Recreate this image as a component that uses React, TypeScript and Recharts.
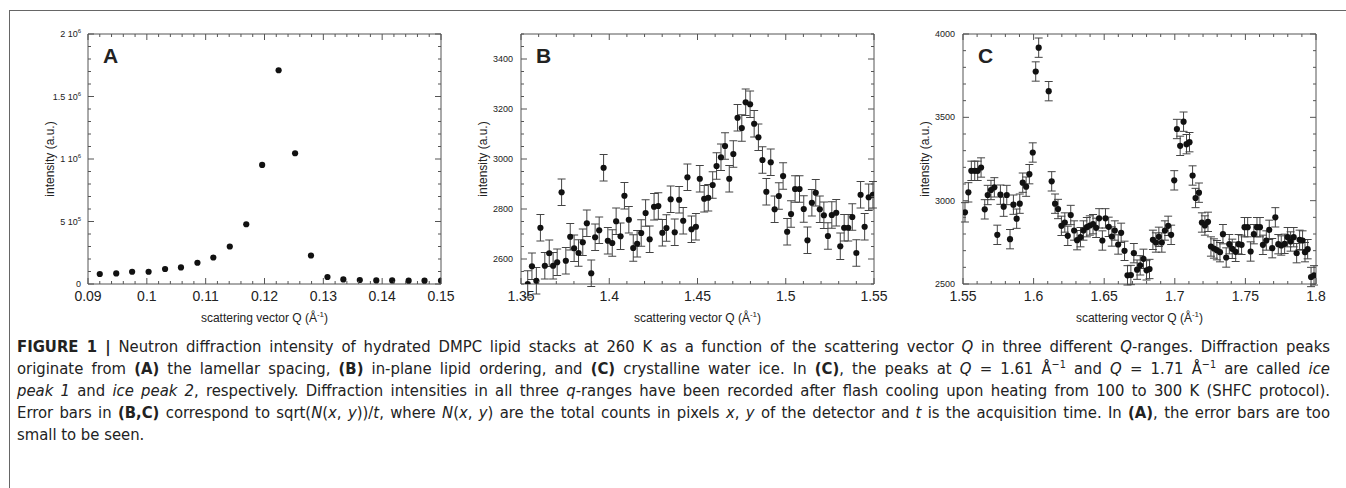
import React from "react";
import { ScatterChart, Scatter, XAxis, YAxis, ErrorBar, ReferenceArea } from "recharts";

// Panel A: lamellar peak (no visible error bars)
const qA = [0.092, 0.0948, 0.0975, 0.1003, 0.1031, 0.1058, 0.1086, 0.1113, 0.1141, 0.1169, 0.1196,
    0.1224, 0.1252, 0.1279, 0.1307, 0.1334, 0.1362, 0.139, 0.1417, 0.1445, 0.1472, 0.15];
const intensityA = [80000, 85000, 98000, 98000, 120000, 133000, 170000, 212000, 300000, 478000, 953000,
    1710000, 1046000, 228000, 56000, 37000, 32000, 29000, 29000, 27000, 27000, 27000];

// Panel B: in-plane lipid ordering
const qB = [
    1.3538, 1.3562, 1.3587, 1.361, 1.3635, 1.366, 1.3682, 1.3705, 1.373, 1.3754,
    1.3779, 1.3801, 1.3826, 1.385, 1.3873, 1.3898, 1.392, 1.3943, 1.3968, 1.3992,
    1.4017, 1.4039, 1.4064, 1.4086, 1.4111, 1.4136, 1.4158, 1.4181, 1.4206, 1.4229,
    1.4254, 1.4278, 1.4301, 1.4324, 1.4348, 1.4371, 1.4396, 1.4419, 1.4443, 1.4466,
    1.4491, 1.4513, 1.4538, 1.4561, 1.4586, 1.4608, 1.4633, 1.4656, 1.468, 1.4703,
    1.4727, 1.4751, 1.4773, 1.4798, 1.4821, 1.4845, 1.4868, 1.489, 1.4915, 1.4937,
    1.4961, 1.4985, 1.5008, 1.503, 1.5053, 1.5078, 1.5102, 1.5123, 1.5148, 1.517,
    1.5193, 1.5216, 1.5239, 1.5261, 1.5286, 1.5309, 1.5331, 1.5354, 1.5377, 1.54,
    1.5424, 1.5447, 1.547, 1.5494
];
const intensityB = [
    2500, 2571, 2513, 2725, 2573, 2623, 2573, 2587, 2867, 2593,
    2689, 2643, 2624, 2667, 2743, 2543, 2687, 2715, 2965, 2673,
    2664, 2751, 2691, 2853, 2757, 2644, 2661, 2704, 2784, 2679,
    2809, 2812, 2705, 2724, 2839, 2707, 2837, 2753, 2927, 2719,
    2729, 2921, 2841, 2845, 2896, 2972, 3007, 3052, 2921, 3020,
    3165, 3124, 3227, 3219, 3141, 3087, 2996, 2869, 2987, 2799,
    2852, 2932, 2709, 2780, 2880, 2880, 2800, 2675, 2825, 2865,
    2799, 2775, 2692, 2776, 2785, 2651, 2725, 2725, 2768, 2624,
    2857, 2729, 2847, 2857
];
const errB = 53;

// Panel C: crystalline water ice
const qC = [
    1.5514, 1.5538, 1.5559, 1.5583, 1.5604, 1.5628, 1.5654, 1.5675, 1.5698, 1.5722,
    1.5743, 1.5765, 1.5788, 1.581, 1.5833, 1.5857, 1.588, 1.5902, 1.5923, 1.5947,
    1.597, 1.5994, 1.6015, 1.6036, 1.6107, 1.6128, 1.6152, 1.6173, 1.6197, 1.6221,
    1.6242, 1.6263, 1.6287, 1.6308, 1.6332, 1.6353, 1.6377, 1.6398, 1.6421, 1.6443,
    1.6464, 1.6487, 1.6509, 1.6532, 1.6554, 1.6575, 1.6599, 1.662, 1.6644, 1.6665,
    1.6689, 1.671, 1.6733, 1.6755, 1.6778, 1.68, 1.6821, 1.6845, 1.6866, 1.6887,
    1.6908, 1.693, 1.6953, 1.6974, 1.6996, 1.7015, 1.7038, 1.7062, 1.7083, 1.7104,
    1.7126, 1.7147, 1.7171, 1.7192, 1.7213, 1.7235, 1.7256, 1.7277, 1.7298, 1.732,
    1.7341, 1.7364, 1.7386, 1.7407, 1.7431, 1.7452, 1.7473, 1.7494, 1.7516, 1.7537,
    1.756, 1.7582, 1.7603, 1.7624, 1.7648, 1.7669, 1.769, 1.7712, 1.7733, 1.7754,
    1.7778, 1.7799, 1.782, 1.7842, 1.7863, 1.7884, 1.7905, 1.7922, 1.7941, 1.7965, 1.7986
];
const intensityC = [
    2930, 3050, 3179, 3179, 3179, 3199, 2948, 3034, 3064, 3080,
    2795, 3036, 2964, 3034, 2769, 2976, 2892, 2982, 3108, 3084,
    3159, 3289, 3775, 3918, 3657, 3116, 2982, 2950, 2849, 2869,
    2789, 2914, 2821, 2763, 2781, 2821, 2841, 2851, 2859, 2837,
    2894, 2761, 2894, 2843, 2785, 2821, 2737, 2807, 2699, 2552,
    2554, 2685, 2586, 2612, 2651, 2582, 2590, 2765, 2749, 2783,
    2749, 2821, 2849, 2795, 3122, 3430, 3329, 3474, 3339, 3351,
    3151, 3016, 3048, 2869, 2851, 2873, 2725, 2713, 2703, 2691,
    2799, 2659, 2739, 2711, 2693, 2739, 2735, 2841, 2841, 2695,
    2799, 2841, 2841, 2735, 2761, 2825, 2715, 2900, 2739, 2731,
    2741, 2781, 2755, 2781, 2685, 2765, 2761, 2691, 2709, 2542, 2552
];
const errC = 58;

// axis ticks (labelled ones)
const xTicksA = [0.09, 0.1, 0.11, 0.12, 0.13, 0.14, 0.15];
const xTicksB = [1.35, 1.4, 1.45, 1.5, 1.55];
const xTicksC = [1.55, 1.6, 1.65, 1.7, 1.75, 1.8];
const yTicksA = [0, 500000, 1000000, 1500000, 2000000];
const yLabelsA = [["0", ""], ["5", "5"], ["1", "6"], ["1.5", "6"], ["2", "6"]];
const yTicksB = [2600, 2800, 3000, 3200, 3400];
const yTicksC = [2500, 3000, 3500, 4000];

const PLOT_W = 353;
const PLOT_H = 250;
const PLOT_TOP = 34;
const FONT = "'Liberation Sans', Arial, Helvetica, sans-serif";
const INK = "#222";
const FRAME = "#555";

// minor tick positions
const steps = (from: number, to: number, step: number) =>
    Array.from({ length: Math.round((to - from) / step) + 1 }, (_, k) => +(from + k * step).toFixed(6));

const isMajor = (v: number, majors: number[]) => majors.some((m) => Math.abs(m - v) < 1e-9);

function XTick(props: any) {
    const { x, y, payload, majors } = props;
    const major = isMajor(payload.value, majors);
    const len = major ? 6 : 3;
    return (
        <g>
            <line x1={x} y1={y} x2={x} y2={y - len} stroke={FRAME} />
            <line x1={x} y1={y - PLOT_H} x2={x} y2={y - PLOT_H + len} stroke={FRAME} />
            {major && (
                <text x={x} y={y + 17} textAnchor="middle" fontSize={14} fontFamily={FONT} fill={INK}>
                    {String(payload.value)}
                </text>
            )}
        </g>
    );
}

function YTick(props: any) {
    const { x, y, payload, majors, labels } = props;
    const idx = majors.findIndex((m: number) => Math.abs(m - payload.value) < 1e-9);
    const major = idx >= 0;
    const len = major ? 6 : 3;
    let label: React.ReactNode = null;
    if (major) {
        if (labels) {
            const [mant, exp] = labels[idx];
            label = (
                <text x={x - 7} y={y + 3} textAnchor="end" fontSize={9} fontFamily={FONT} fill={INK}>
                    {exp ? `${mant} 10` : mant}
                    {exp && <tspan dy={-4} fontSize={6}>{exp}</tspan>}
                </text>
            );
        } else {
            label = (
                <text x={x - 8} y={y + 3} textAnchor="end" fontSize={9} fontFamily={FONT} fill={INK}>
                    {String(payload.value)}
                </text>
            );
        }
    }
    return (
        <g>
            <line x1={x} y1={y} x2={x + len} y2={y} stroke={FRAME} />
            <line x1={x + PLOT_W} y1={y} x2={x + PLOT_W - len} y2={y} stroke={FRAME} />
            {label}
        </g>
    );
}

function Titles({ left, letter }: { left: number; letter: string }) {
    const bottom = PLOT_TOP + PLOT_H;
    const cy = PLOT_TOP + PLOT_H / 2;
    const tx = left - 38;
    return (
        <g fontFamily={FONT} fill={INK}>
            <text x={left + PLOT_W / 2} y={bottom + 38} textAnchor="middle" fontSize={12}>
                scattering vector Q (Å<tspan dy={-5} fontSize={8}>-1</tspan>
                <tspan dy={5}>)</tspan>
            </text>
            <text x={tx} y={cy} transform={`rotate(-90, ${tx}, ${cy})`} textAnchor="middle"
                dominantBaseline="central" fontSize={12}>
                intensity (a.u.)
            </text>
            <text x={left + 15} y={PLOT_TOP + 29} fontSize={21} fontWeight="bold">{letter}</text>
        </g>
    );
}

type PanelProps = {
    left: number;
    yAxisW: number;
    letter: string;
    rows: { q: number; i: number; err?: number }[];
    xDomain: [number, number];
    yDomain: [number, number];
    xMajors: number[];
    xMinor: number;
    yMajors: number[];
    yMinor: number;
    yLabels?: string[][];
    withErrors: boolean;
};

function Panel({ left, yAxisW, letter, rows, xDomain, yDomain, xMajors, xMinor, yMajors, yMinor, yLabels, withErrors }: PanelProps) {
    const width = yAxisW + PLOT_W + 19;
    return (
        <div style={{ position: "absolute", left, top: 0 }}>
            <ScatterChart width={width} height={330} margin={{ top: PLOT_TOP, right: 19, bottom: 0, left: 0 }}>
                <XAxis
                    type="number"
                    dataKey="q"
                    domain={xDomain}
                    allowDataOverflow
                    ticks={steps(xDomain[0], xDomain[1], xMinor)}
                    interval={0}
                    tickSize={0}
                    tickMargin={0}
                    tickLine={false}
                    axisLine={false}
                    height={330 - PLOT_TOP - PLOT_H}
                    tick={(p: any) => <XTick {...p} majors={xMajors} />}
                    label={<Titles left={yAxisW} letter={letter} />}
                />
                <YAxis
                    type="number"
                    dataKey="i"
                    domain={yDomain}
                    allowDataOverflow
                    ticks={steps(yDomain[0], yDomain[1], yMinor)}
                    interval={0}
                    tickSize={0}
                    tickMargin={0}
                    tickLine={false}
                    axisLine={false}
                    width={yAxisW}
                    tick={(p: any) => <YTick {...p} majors={yMajors} labels={yLabels} />}
                />
                <ReferenceArea x1={xDomain[0]} x2={xDomain[1]} y1={yDomain[0]} y2={yDomain[1]}
                    fill="none" stroke={FRAME} strokeWidth={1} ifOverflow="visible" />
                <Scatter
                    data={rows}
                    isAnimationActive={false}
                    fill="#111"
                    shape={(p: any) => <circle cx={p.cx} cy={p.cy} r={3.1} fill="#111" />}
                >
                    {withErrors && (
                        <ErrorBar dataKey="err" direction="y" width={4} stroke="#444" strokeWidth={1} isAnimationActive={false} />
                    )}
                </Scatter>
            </ScatterChart>
        </div>
    );
}

const B = ({ children }: { children: React.ReactNode }) => <b>{children}</b>;
const I = ({ children }: { children: React.ReactNode }) => <i>{children}</i>;
const invA = <>Å<sup style={{ fontSize: "0.65em", verticalAlign: "0.55em", lineHeight: 0 }}>−1</sup></>;

export default function App() {
    const rowsA = qA.map((q, k) => ({ q, i: intensityA[k] }));
    const rowsB = qB.map((q, k) => ({ q, i: intensityB[k], err: errB }));
    const rowsC = qC.map((q, k) => ({ q, i: intensityC[k], err: errC }));

    const line: React.CSSProperties = { textAlign: "justify", textAlignLast: "justify", height: 22 };

    return (
        <div style={{ position: "absolute", left: 0, top: 0, width: 1346, height: 488, background: "#fff", overflow: "hidden" }}>
            <div style={{ position: "absolute", left: 9, top: 10, width: 1345, height: 480, borderLeft: "1px solid #666", borderTop: "1px solid #666" }} />
            <Panel left={0} yAxisW={88} letter="A" rows={rowsA} xDomain={[0.09, 0.15]} yDomain={[0, 2000000]}
                xMajors={xTicksA} xMinor={0.002} yMajors={yTicksA} yMinor={100000} yLabels={yLabelsA} withErrors={false} />
            <Panel left={440} yAxisW={81} letter="B" rows={rowsB} xDomain={[1.35, 1.55]} yDomain={[2500, 3500]}
                xMajors={xTicksB} xMinor={0.01} yMajors={yTicksB} yMinor={50} withErrors />
            <Panel left={890} yAxisW={73} letter="C" rows={rowsC} xDomain={[1.55, 1.8]} yDomain={[2500, 4000]}
                xMajors={xTicksC} xMinor={0.01} yMajors={yTicksC} yMinor={100} withErrors />
            <div style={{
                position: "absolute", left: 17, top: 336, width: 1313,
                fontFamily: "'Liberation Sans Narrow', 'DejaVu Sans Condensed', Roboto, sans-serif",
                fontSize: 16.5, lineHeight: "22px", color: "#222"
            }}>
                <div style={line}><B>FIGURE 1 |</B> Neutron diffraction intensity of hydrated DMPC lipid stacks at 260 K as a function of the scattering vector <I>Q</I> in three different <I>Q</I>-ranges. Diffraction peaks</div>
                <div style={line}>originate from <B>(A)</B> the lamellar spacing, <B>(B)</B> in-plane lipid ordering, and <B>(C)</B> crystalline water ice. In <B>(C)</B>, the peaks at <I>Q</I> = 1.61 {invA} and <I>Q</I> = 1.71 {invA} are called <I>ice</I></div>
                <div style={line}><I>peak 1</I> and <I>ice peak 2</I>, respectively. Diffraction intensities in all three <I>q</I>-ranges have been recorded after flash cooling upon heating from 100 to 300 K (SHFC protocol).</div>
                <div style={line}>Error bars in <B>(B,C)</B> correspond to sqrt(<I>N</I>(<I>x</I>, <I>y</I>))/<I>t</I>, where <I>N</I>(<I>x</I>, <I>y</I>) are the total counts in pixels <I>x</I>, <I>y</I> of the detector and <I>t</I> is the acquisition time. In <B>(A)</B>, the error bars are too</div>
                <div style={{ height: 22 }}>small to be seen.</div>
            </div>
        </div>
    );
}
